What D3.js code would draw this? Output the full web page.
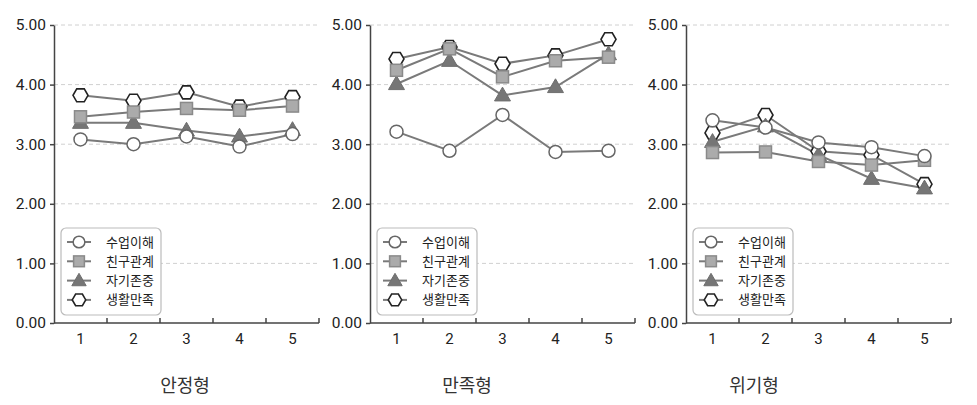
<!DOCTYPE html>
<html>
<head>
<meta charset="utf-8">
<script src="https://cdn.jsdelivr.net/npm/d3@7"></script>
<style>
  body { margin: 0; background: #fff; }
  svg text { font-family: Roboto, "Noto Sans CJK KR", sans-serif; }
</style>
</head>
<body>
<svg id="chart" width="977" height="405"></svg>
<script>
const groups = ['안정형', '만족형', '위기형']
const periods = [1, 2, 3, 4, 5]
const seriesNames = ['수업이해', '친구관계', '자기존중', '생활만족']
const yTicks = [0, 1, 2, 3, 4, 5]

// values per group, order follows seriesNames
const stable = [
  [3.08, 3.00, 3.13, 2.96, 3.17],
  [3.46, 3.54, 3.60, 3.57, 3.64],
  [3.36, 3.36, 3.23, 3.13, 3.24],
  [3.82, 3.73, 3.87, 3.63, 3.79]
]
const satisfied = [
  [3.21, 2.89, 3.49, 2.87, 2.89],
  [4.24, 4.60, 4.13, 4.40, 4.46],
  [4.01, 4.40, 3.82, 3.96, 4.51],
  [4.43, 4.63, 4.35, 4.49, 4.76]
]
const crisis = [
  [3.40, 3.28, 3.03, 2.95, 2.80],
  [2.86, 2.87, 2.71, 2.65, 2.73],
  [3.04, 3.30, 2.82, 2.42, 2.26],
  [3.19, 3.49, 2.88, 2.82, 2.33]
]
const allData = [stable, satisfied, crisis]

const svg = d3.select('#chart')
const panelX = [54, 370, 686]
const titleX = [185, 467, 754]
const plotW = 265
const plotTop = 25, plotBottom = 323

const y = d3.scaleLinear().domain([0, 5]).range([plotBottom, plotTop])
const x = d3.scaleBand().domain(periods).range([0, plotW])

const lineColor = '#7a7a7a'

function hexPath(r) {
  let pts = d3.range(6).map(i => {
    let a = Math.PI / 3 * i
    return [r * Math.cos(a), r * Math.sin(a)]
  })
  return 'M' + pts.map(p => p.join(',')).join('L') + 'Z'
}

// how each series marker looks
function drawMarker(sel, k, s) {
  s = s || 1
  if (k == 0) {
    sel.append('circle').attr('r', 6.5 * s)
      .attr('fill', '#fff').attr('stroke', '#666').attr('stroke-width', 1.5)
  } else if (k == 1) {
    sel.append('rect').attr('x', -6 * s).attr('y', -6 * s).attr('width', 12 * s).attr('height', 12 * s)
      .attr('fill', '#ababab').attr('stroke', '#8a8a8a').attr('stroke-width', 1.5)
  } else if (k == 2) {
    sel.append('path').attr('d', d3.symbol(d3.symbolTriangle, 110 * s * s)())
      .attr('transform', 'translate(0,1)')
      .attr('fill', '#767676').attr('stroke', '#6e6e6e').attr('stroke-width', 1)
  } else {
    sel.append('path').attr('d', hexPath(7.5 * s))
      .attr('fill', '#fff').attr('stroke', '#222').attr('stroke-width', 1.6)
  }
}

allData.forEach((data, p) => {
  const g = svg.append('g').attr('transform', `translate(${panelX[p]},0)`)

  // grid
  g.selectAll('.grid').data(yTicks.filter(d => d > 0)).enter()
    .append('line')
    .attr('x1', 0).attr('x2', plotW)
    .attr('y1', d => y(d)).attr('y2', d => y(d))
    .attr('stroke', '#d0d0d0').attr('stroke-dasharray', '4,3')

  // y axis
  const yAxis = g.append('g')
    .call(d3.axisLeft(y).tickValues(yTicks).tickFormat(d3.format('.2f')).tickSizeInner(4).tickSizeOuter(0))
  yAxis.select('.domain').attr('stroke', '#444').attr('stroke-width', 1.5)
  yAxis.selectAll('.tick line').attr('stroke', '#444').attr('stroke-width', 1.5)
  yAxis.selectAll('text').attr('font-size', 15.5).attr('fill', '#222').attr('x', -8)

  // x axis, ticks point up at band edges
  const xg = g.append('g').attr('transform', `translate(0,${plotBottom})`)
  xg.append('line').attr('x1', 0).attr('x2', plotW)
    .attr('stroke', '#444').attr('stroke-width', 1.5)
  xg.selectAll('.xt').data(periods).enter()
    .append('line')
    .attr('x1', d => x(d) + x.bandwidth()).attr('x2', d => x(d) + x.bandwidth())
    .attr('y1', 0).attr('y2', -5)
    .attr('stroke', '#444').attr('stroke-width', 1.5)
  xg.selectAll('.xl').data(periods).enter()
    .append('text')
    .attr('x', d => x(d) + x.bandwidth() / 2)
    .attr('y', 21)
    .attr('text-anchor', 'middle')
    .attr('font-size', 15).attr('fill', '#222')
    .text(d => d)

  const line = d3.line()
    .x((d, i) => x(periods[i]) + x.bandwidth() / 2)
    .y(d => y(d))

  // lines, then markers (hexagon first, circle last)
  const order = [3, 2, 1, 0]
  order.forEach(k => {
    g.append('path').datum(data[k])
      .attr('d', line)
      .attr('fill', 'none').attr('stroke', lineColor).attr('stroke-width', 2)
  })
  order.forEach(k => {
    data[k].forEach((v, i) => {
      const m = g.append('g')
        .attr('transform', `translate(${x(periods[i]) + x.bandwidth() / 2},${y(v)})`)
      drawMarker(m, k)
    })
  })

  // legend
  const lg = g.append('g').attr('transform', 'translate(7,228)')
  lg.append('rect').attr('width', 100).attr('height', 87).attr('rx', 5)
    .attr('fill', '#fff').attr('stroke', '#bbb').attr('stroke-width', 1.2)
  seriesNames.forEach((name, k) => {
    const row = lg.append('g').attr('transform', `translate(0,${14 + k * 19.3})`)
    row.append('line').attr('x1', 6).attr('x2', 30)
      .attr('stroke', lineColor).attr('stroke-width', 2)
    const m = row.append('g').attr('transform', 'translate(18,0)')
    drawMarker(m, k, 0.9)
    row.append('text').attr('x', 45).attr('y', 4.5)
      .attr('font-size', 13).attr('fill', '#222')
      .text(name)
  })

  svg.append('text')
    .attr('x', titleX[p]).attr('y', 392)
    .attr('text-anchor', 'middle')
    .attr('font-size', 18).attr('fill', '#333')
    .text(groups[p])
})
</script>
</body>
</html>
